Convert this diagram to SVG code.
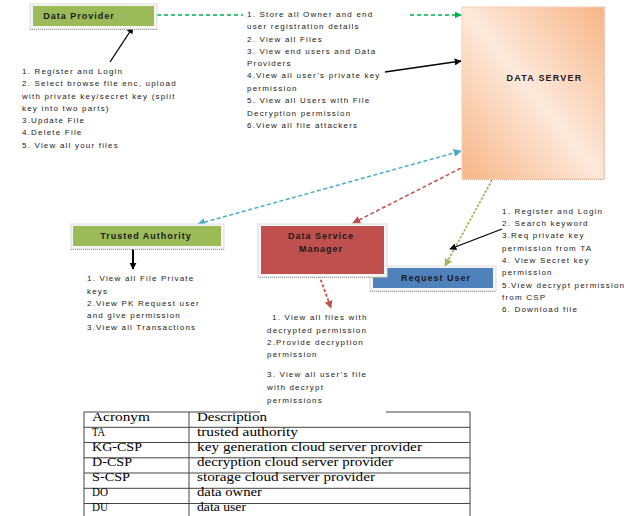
<svg xmlns="http://www.w3.org/2000/svg" width="635" height="516" viewBox="0 0 635 516">
<defs>
  <linearGradient id="dsGrad" x1="1" y1="0" x2="0" y2="1">
    <stop offset="0" stop-color="#f7b586"/>
    <stop offset="0.5" stop-color="#fde9db"/>
    <stop offset="1" stop-color="#f7b586"/>
  </linearGradient>
  <marker id="mBlack" viewBox="0 0 10 10" refX="9" refY="5" markerWidth="7" markerHeight="7" markerUnits="userSpaceOnUse" orient="auto-start-reverse">
    <path d="M0,0 L10,5 L0,10 z" fill="#000"/>
  </marker>
  <marker id="mGreen" viewBox="0 0 10 10" refX="9" refY="5" markerWidth="7" markerHeight="7" markerUnits="userSpaceOnUse" orient="auto-start-reverse">
    <path d="M0,0 L10,5 L0,10 z" fill="#00b050"/>
  </marker>
  <marker id="mCyan" viewBox="0 0 10 10" refX="9" refY="5" markerWidth="8" markerHeight="8" markerUnits="userSpaceOnUse" orient="auto-start-reverse">
    <path d="M0,0 L10,5 L0,10 z" fill="#4bacc6"/>
  </marker>
  <marker id="mRed" viewBox="0 0 10 10" refX="9" refY="5" markerWidth="8" markerHeight="8" markerUnits="userSpaceOnUse" orient="auto-start-reverse">
    <path d="M0,0 L10,5 L0,10 z" fill="#c0504d"/>
  </marker>
  <marker id="mLGreen" viewBox="0 0 10 10" refX="9" refY="5" markerWidth="8" markerHeight="8" markerUnits="userSpaceOnUse" orient="auto-start-reverse">
    <path d="M0,0 L10,5 L0,10 z" fill="#9bbb59"/>
  </marker>
</defs>
<style>
  .lbl { font-family: "Liberation Sans", Arial, sans-serif; font-size: 9px; font-weight: bold; letter-spacing: 1px; fill: #1a1a1a; text-anchor: middle; }
  .txt { font-family: "Liberation Sans", Arial, sans-serif; font-size: 8px; letter-spacing: 1.2px; fill: #222; }
  .tbl { font-family: "Liberation Serif", "Times New Roman", serif; font-size: 12px; fill: #000; }
  .frame { fill: #f6f6f6; stroke: #dcdcdc; stroke-width: 1; }
  .shadow { stroke: #9a9a9a; stroke-width: 1; stroke-dasharray: 1 1; fill: none; }
  .grid { stroke: #444; stroke-width: 1; fill: none; }
</style>
<rect width="635" height="516" fill="#fff"/>

<g id="connectors" fill="none">
  <line x1="157" y1="15" x2="243" y2="15" stroke="#00b050" stroke-width="1.5" stroke-dasharray="4 3"/>
  <line x1="410" y1="15" x2="461" y2="15" stroke="#00b050" stroke-width="1.5" stroke-dasharray="4 3" marker-end="url(#mGreen)"/>
  <line x1="110" y1="62" x2="133" y2="27" stroke="#000" stroke-width="1.3" marker-end="url(#mBlack)"/>
  <line x1="385" y1="72" x2="461" y2="61" stroke="#000" stroke-width="1.3" marker-end="url(#mBlack)"/>
  <line x1="198" y1="224" x2="461" y2="151" stroke="#4bacc6" stroke-width="1.5" stroke-dasharray="4 2.5" marker-start="url(#mCyan)" marker-end="url(#mCyan)"/>
  <line x1="353" y1="223" x2="475" y2="161" stroke="#c0504d" stroke-width="1.5" stroke-dasharray="4 2.5" marker-start="url(#mRed)" marker-end="url(#mRed)"/>
  <line x1="492" y1="180" x2="445" y2="266" stroke="#9bbb59" stroke-width="1.8" stroke-dasharray="2.5 1.5" marker-end="url(#mLGreen)"/>
  <line x1="502" y1="229" x2="450" y2="249" stroke="#000" stroke-width="1.3" marker-end="url(#mBlack)"/>
  <line x1="133" y1="247" x2="133" y2="269" stroke="#000" stroke-width="2" marker-end="url(#mBlack)"/>
  <line x1="319" y1="275" x2="331" y2="308" stroke="#c0504d" stroke-width="1.8" stroke-dasharray="3 2" marker-end="url(#mRed)"/>
</g>

<g id="data-provider">
  <rect class="frame" x="30" y="4" width="127" height="25"/>
  <rect x="33" y="6" width="121" height="20" fill="#9bbb59"/>
  <line class="shadow" x1="30" y1="29.5" x2="157" y2="29.5"/>
  <text class="lbl" x="79" y="18.5">Data Provider</text>
</g>

<g id="data-server">
  <rect x="462" y="7" width="142" height="172" fill="url(#dsGrad)" stroke="#f6cfb2" stroke-width="1"/>
  <path d="M604.5,7 V179.5 H462" fill="none" stroke="#d9a88a" stroke-width="1" stroke-dasharray="1 1"/>
  <text class="lbl" x="544.5" y="80.5" style="letter-spacing:1.2px">DATA SERVER</text>
</g>

<g id="trusted-authority">
  <rect class="frame" x="71" y="224" width="153" height="25"/>
  <rect x="73" y="226" width="148" height="20" fill="#9bbb59"/>
  <line class="shadow" x1="71" y1="249.5" x2="224" y2="249.5"/>
  <text class="lbl" x="146" y="239">Trusted Authority</text>
</g>

<g id="request-user">
  <rect class="frame" x="370" y="266" width="126" height="25"/>
  <rect x="373" y="268" width="120" height="20" fill="#4f81bd"/>
  <line class="shadow" x1="370" y1="291.5" x2="496" y2="291.5"/>
  <text class="lbl" x="436" y="281">Request User</text>
</g>

<g id="data-service-manager">
  <rect class="frame" x="258" y="224" width="129" height="53"/>
  <rect x="261" y="226" width="123" height="48" fill="#c0504d"/>
  <line class="shadow" x1="258" y1="277.5" x2="387" y2="277.5"/>
  <text class="lbl" x="321" y="238.5">Data Service</text>
  <text class="lbl" x="321" y="252">Manager</text>
</g>

<g id="provider-notes">
  <text class="txt" x="22" y="74">1. Register and Login</text>
  <text class="txt" x="22" y="86">2. Select browse file enc, upload</text>
  <text class="txt" x="22" y="99">with private key/secret key (split</text>
  <text class="txt" x="22" y="111">key into two parts)</text>
  <text class="txt" x="22" y="123">3.Update File</text>
  <text class="txt" x="22" y="135">4.Delete File</text>
  <text class="txt" x="22" y="148">5. View all your files</text>
</g>

<g id="server-notes">
  <text class="txt" x="247" y="16.5">1. Store all Owner and end</text>
  <text class="txt" x="247" y="29">user registration details</text>
  <text class="txt" x="247" y="41.5">2. View all Files</text>
  <text class="txt" x="247" y="54">3. View end users and Data</text>
  <text class="txt" x="247" y="66">Providers</text>
  <text class="txt" x="247" y="78">4.View all user’s private key</text>
  <text class="txt" x="247" y="91">permission</text>
  <text class="txt" x="247" y="103">5. View all Users with File</text>
  <text class="txt" x="247" y="115.5">Decryption permission</text>
  <text class="txt" x="247" y="127.5">6.View all file attackers</text>
</g>

<g id="authority-notes">
  <text class="txt" x="87" y="281">1. View all File Private</text>
  <text class="txt" x="87" y="294">keys</text>
  <text class="txt" x="87" y="306">2.View PK Request user</text>
  <text class="txt" x="87" y="318">and give permission</text>
  <text class="txt" x="87" y="330">3.View all Transactions</text>
</g>

<g id="manager-notes">
  <text class="txt" x="272" y="320">1. View all files with</text>
  <text class="txt" x="267" y="333">decrypted permission</text>
  <text class="txt" x="267" y="345">2.Provide decryption</text>
  <text class="txt" x="267" y="357">permission</text>
  <text class="txt" x="267" y="377">3. View all user’s file</text>
  <text class="txt" x="267" y="390">with decrypt</text>
  <text class="txt" x="267" y="403">permissions</text>
</g>

<g id="user-notes">
  <text class="txt" x="502" y="214">1. Register and Login</text>
  <text class="txt" x="502" y="226">2. Search keyword</text>
  <text class="txt" x="502" y="238">3.Req private key</text>
  <text class="txt" x="502" y="251">permission from TA</text>
  <text class="txt" x="502" y="263">4. View Secret key</text>
  <text class="txt" x="502" y="275">permission</text>
  <text class="txt" x="502" y="288">5.View decrypt permission</text>
  <text class="txt" x="502" y="300">from CSP</text>
  <text class="txt" x="502" y="312">6. Download file</text>
</g>

<g id="acronym-table">
  <line class="grid" x1="84" y1="412" x2="260" y2="412"/>
  <line class="grid" x1="386" y1="412" x2="470" y2="412"/>
  <line class="grid" x1="84" y1="427.3" x2="470" y2="427.3"/>
  <line class="grid" x1="84" y1="442.5" x2="470" y2="442.5"/>
  <line class="grid" x1="84" y1="457.8" x2="470" y2="457.8"/>
  <line class="grid" x1="84" y1="473" x2="470" y2="473"/>
  <line class="grid" x1="84" y1="488.3" x2="470" y2="488.3"/>
  <line class="grid" x1="84" y1="503.5" x2="470" y2="503.5"/>
  <line class="grid" x1="84" y1="412" x2="84" y2="516"/>
  <line class="grid" x1="189" y1="412" x2="189" y2="516"/>
  <line class="grid" x1="470" y1="412" x2="470" y2="516"/>
  <text class="tbl" x="92" y="421" textLength="58" lengthAdjust="spacingAndGlyphs">Acronym</text>
  <text class="tbl" x="197" y="421" textLength="70" lengthAdjust="spacingAndGlyphs">Description</text>
  <text class="tbl" x="92" y="436" textLength="13" lengthAdjust="spacingAndGlyphs">TA</text>
  <text class="tbl" x="197" y="436" textLength="101" lengthAdjust="spacingAndGlyphs">trusted authority</text>
  <text class="tbl" x="92" y="451" textLength="50" lengthAdjust="spacingAndGlyphs">KG-CSP</text>
  <text class="tbl" x="197" y="451" textLength="225" lengthAdjust="spacingAndGlyphs">key generation cloud server provider</text>
  <text class="tbl" x="92" y="466" textLength="40" lengthAdjust="spacingAndGlyphs">D-CSP</text>
  <text class="tbl" x="197" y="466" textLength="196" lengthAdjust="spacingAndGlyphs">decryption cloud server provider</text>
  <text class="tbl" x="92" y="481" textLength="38" lengthAdjust="spacingAndGlyphs">S-CSP</text>
  <text class="tbl" x="197" y="481" textLength="178" lengthAdjust="spacingAndGlyphs">storage cloud server provider</text>
  <text class="tbl" x="92" y="496" textLength="16" lengthAdjust="spacingAndGlyphs">DO</text>
  <text class="tbl" x="197" y="496" textLength="65" lengthAdjust="spacingAndGlyphs">data owner</text>
  <text class="tbl" x="92" y="511" textLength="16" lengthAdjust="spacingAndGlyphs">DU</text>
  <text class="tbl" x="197" y="511" textLength="49" lengthAdjust="spacingAndGlyphs">data user</text>
</g>
</svg>
